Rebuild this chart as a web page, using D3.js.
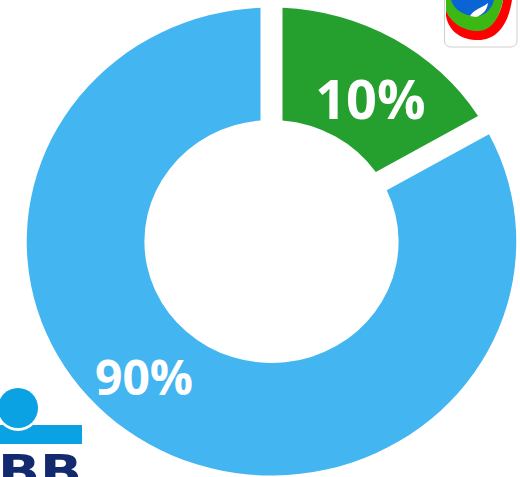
<!DOCTYPE html>
<html>
<head>
<meta charset="utf-8">
<script src="https://cdn.jsdelivr.net/npm/d3@7"></script>
<style>
  html, body { margin: 0; padding: 0; background: #ffffff; }
  svg { display: block; }
</style>
</head>
<body>
<div id="chart"></div>
<script>
// ---- data ----
const categories = ["Green", "Blue"];
const sliceValues = [16.7, 83.3];          // share of the ring as drawn
const sliceLabels = ["10%", "90%"];         // printed labels
const sliceColors = ["#259f2e", "#43b5f0"];

// ---- layout ----
const W = 520, H = 477;
const cx = 271.5, cy = 241.5;
const sx = 1.046;            // horizontal stretch seen in the reference
const rOuter = 234, rInner = 121.5;

const svg = d3.select("#chart").append("svg")
  .attr("width", W).attr("height", H);

const pie = d3.pie().sort(null).value(d => d)(sliceValues);
const arc = d3.arc()
  .innerRadius(rInner).outerRadius(rOuter)
  .padAngle(0.09).padRadius(rOuter);

const g = svg.append("g")
  .attr("transform", `translate(${cx},${cy}) scale(${sx},1)`);

g.selectAll("path.slice")
  .data(pie)
  .join("path")
  .attr("class", "slice")
  .attr("d", arc)
  .attr("fill", (d, i) => sliceColors[i]);

// label placement: angular shift from slice mid-angle (radians) and radius
const labelShift = [0.057, 0.209];
const labelRadius = [172, 182];
const labelSize = [54, 48];
function labelPos(d, i) {
  const a = (d.startAngle + d.endAngle) / 2 + labelShift[i];
  const c = d3.arc().innerRadius(labelRadius[i]).outerRadius(labelRadius[i])
    .centroid({startAngle: a, endAngle: a});
  return [cx + c[0] * sx, cy + c[1]];
}
svg.selectAll("text.lbl")
  .data(pie)
  .join("text")
  .attr("class", "lbl")
  .attr("x", (d, i) => labelPos(d, i)[0])
  .attr("y", (d, i) => labelPos(d, i)[1])
  .attr("text-anchor", "middle")
  .attr("dominant-baseline", "central")
  .attr("font-family", "'Open Sans', sans-serif")
  .attr("font-weight", 700)
  .attr("font-size", (d, i) => labelSize[i])
  .attr("fill", "#ffffff")
  .text((d, i) => sliceLabels[i]);

// ---- top-right logo ----
const lg = svg.append("g");
lg.append("rect").attr("x", 444.5).attr("y", -20).attr("width", 72.5).attr("height", 67)
  .attr("rx", 6).attr("fill", "#ffffff").attr("stroke", "#cfcfcf").attr("stroke-width", 1);
lg.append("path").attr("d", "M446,16 C449,32 462,40 478,40 C496,40 508,26 512,0 L503,0 C500,18 490,30 478,30 C464,30 452,24 446,10 Z")
  .attr("fill", "#ff0000");
lg.append("path").attr("d", "M446,0 L446,11 C452,24 464,31 478,31 C490,31 499,20 503,0 Z")
  .attr("fill", "#3cb815");
lg.append("path").attr("d", "M451,0 C454,10 464,16 476,16 C486,16 492,8 494,0 Z")
  .attr("fill", "#0a64d6");
lg.append("path").attr("d", "M470,16 C474,9 482,8 488,3 C487,11 482,15 476,17 Z")
  .attr("fill", "#ffffff");

// ---- bottom-left logo ----
const bl = svg.append("g");
bl.append("rect").attr("x", 0).attr("y", 425).attr("width", 82).attr("height", 19).attr("fill", "#0aa2e2");
bl.append("circle").attr("cx", 18).attr("cy", 409).attr("r", 22).attr("fill", "#ffffff");
bl.append("circle").attr("cx", 18).attr("cy", 408).attr("r", 20).attr("fill", "#0aa2e2");
bl.append("text").attr("x", -2).attr("y", 487)
  .attr("font-family", "'DejaVu Sans', sans-serif").attr("font-weight", 700)
  .attr("font-size", 44).attr("textLength", 84).attr("lengthAdjust", "spacingAndGlyphs")
  .attr("fill", "#142a6e").text("BB");
</script>
</body>
</html>
